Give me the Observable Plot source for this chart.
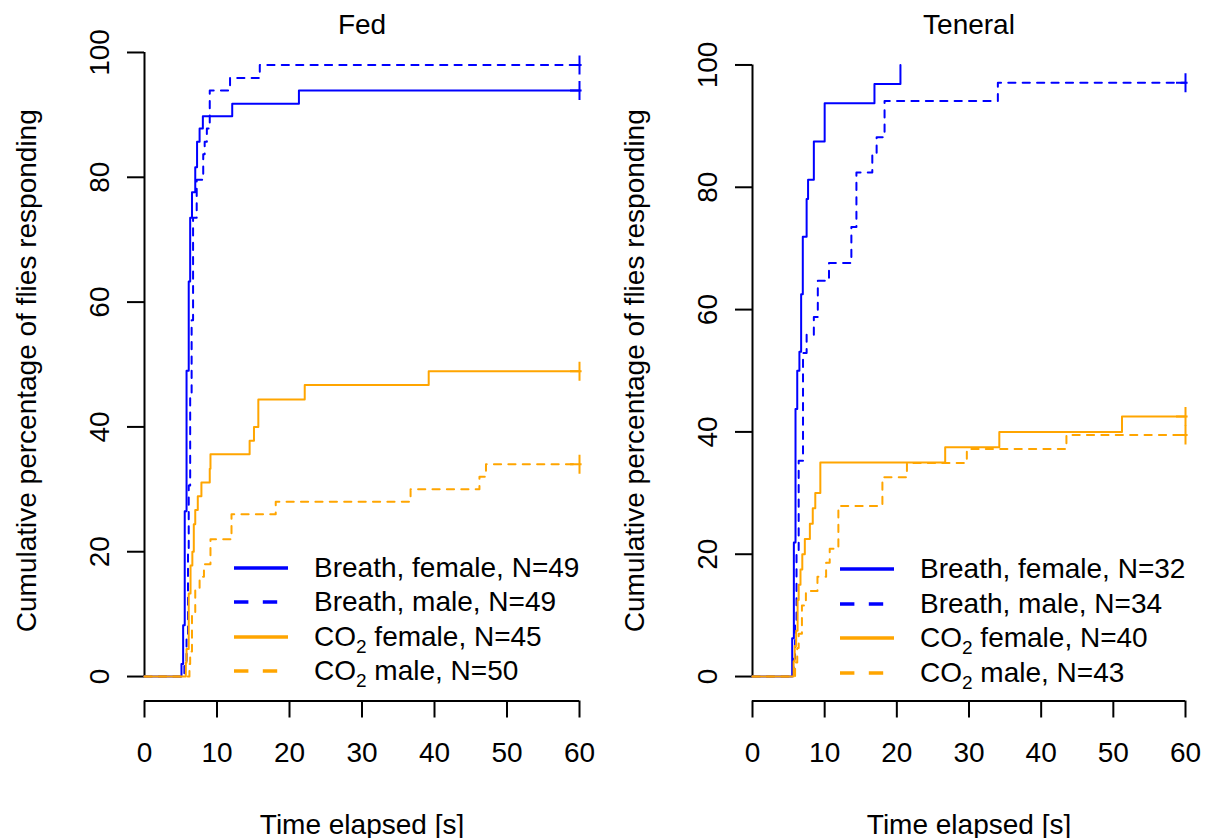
<!DOCTYPE html>
<html>
<head>
<meta charset="utf-8">
<script src="https://cdn.jsdelivr.net/npm/d3@7"></script>
<script src="https://cdn.jsdelivr.net/npm/@observablehq/plot@0.6"></script>
<style>
  body { margin: 0; background: #fff; }
  #chart { position: relative; width: 1210px; height: 838px; font-family: "Liberation Sans", Arial, sans-serif; color: #000; }
  .panel { position: absolute; top: 0; }
  .legend-row { position: absolute; display: flex; align-items: center; height: 34px; white-space: nowrap; font-size: 28px; line-height: 1; }
  .legend-row svg { display: block; }
  .legend-row span { margin-left: 26px; }
  .legend-row sub { font-size: 19px; vertical-align: -7px; line-height: 0; }
</style>
</head>
<body>
<div id="chart"></div>
<script>
// Time to response (s) and cumulative % of flies responding at each step.
const fedBreathFemale = [[5.1, 2.0], [5.33, 8.2], [5.55, 26.5], [5.8, 49.0], [6.1, 63.3], [6.3, 73.5], [6.55, 77.6], [7.0, 81.6], [7.25, 85.7], [7.6, 87.8], [8.05, 89.8], [12.1, 91.8], [21.3, 93.9]];
const fedBreathMale = [[5.5, 2.0], [5.8, 6.1], [6.0, 20.4], [6.1, 30.6], [6.3, 44.9], [6.5, 57.1], [6.7, 73.5], [7.2, 79.6], [8.1, 83.7], [8.3, 85.7], [8.6, 87.8], [9.0, 93.9], [11.8, 95.9], [15.9, 98.0]];
const fedCO2Female = [[5.7, 2.2], [5.8, 4.4], [6.1, 13.3], [6.35, 17.8], [6.6, 20.0], [6.8, 24.4], [7.0, 26.7], [7.35, 28.9], [7.85, 31.1], [9.0, 33.3], [9.1, 35.6], [14.5, 37.8], [15.1, 40.0], [15.7, 44.4], [22.1, 46.7], [39.2, 48.9]];
const fedCO2Male = [[6.2, 2.0], [6.3, 4.0], [6.55, 10.0], [7.0, 14.0], [7.6, 16.0], [8.2, 18.0], [9.1, 22.0], [12.0, 26.0], [18.1, 28.0], [36.7, 30.0], [46.2, 32.0], [47.1, 34.0]];

const tenBreathFemale = [[5.5, 6.25], [5.73, 21.9], [5.96, 43.75], [6.2, 50.0], [6.5, 53.1], [6.74, 62.5], [6.97, 71.9], [7.5, 78.1], [7.7, 81.25], [8.5, 87.5], [10.0, 93.75], [16.9, 96.9], [20.5, 100.0]];
const tenBreathMale = [[5.7, 2.9], [5.9, 8.8], [6.1, 20.6], [6.4, 35.3], [7.0, 52.9], [7.5, 55.9], [8.5, 58.8], [9.05, 64.7], [10.6, 67.6], [13.7, 73.5], [14.4, 82.4], [16.6, 85.3], [17.2, 88.2], [18.3, 94.1], [34.0, 97.1]];
const tenCO2Female = [[5.7, 2.5], [5.85, 5.0], [6.05, 7.5], [6.25, 12.5], [6.4, 15.0], [6.65, 17.5], [6.9, 20.0], [7.25, 22.5], [7.95, 25.0], [8.35, 27.5], [8.7, 30.0], [9.4, 35.0], [26.7, 37.5], [34.2, 40.0], [51.2, 42.5]];
const tenCO2Male = [[5.9, 2.3], [6.2, 4.65], [6.4, 7.0], [6.85, 11.6], [7.4, 14.0], [9.0, 16.3], [10.2, 18.6], [10.7, 20.9], [11.9, 27.9], [18.0, 32.6], [21.4, 34.9], [29.7, 37.2], [43.5, 39.5]];

// Series descriptions shared by both panels.
const seriesNames = ["Breath, female", "Breath, male", "CO2 female", "CO2 male"];
const seriesColors = ["#0000ff", "#0000ff", "#ffa500", "#ffa500"];
const seriesDashed = [false, true, false, true];
const fedN = [49, 49, 45, 50];
const tenN = [32, 34, 40, 43];
const fedCensored = [true, true, true, true];
const tenCensored = [false, true, true, true];

const panelTitles = ["Fed", "Teneral"];
const xTicks = [0, 10, 20, 30, 40, 50, 60];
const yTicks = [0, 20, 40, 60, 80, 100];
const endTime = 60;
const xTitle = "Time elapsed [s]";
const yTitle = "Cumulative percentage of flies responding";

const FONT = "\"Liberation Sans\", Arial, sans-serif";
const LW = 2;

// Custom "+" censoring mark (right arm clipped at the plot edge).
const censorSymbol = {
  draw(context, size) {
    const r = Math.sqrt(size / Math.PI);
    context.moveTo(0, -r); context.lineTo(0, r);
    context.moveTo(-r, 0); context.lineTo(r * 0.22, 0);
  }
};

function makePanel({title, steps, counts, censored, left, marginLeft, marginRight, legendLineX, legendTop}) {
  const maxP = d3.max(steps, s => d3.max(s, d => d[1]));
  const yDomain = [-0.04 * maxP, 1.04 * maxP];

  const marks = [
    // R-style detached axis lines spanning only the tick range
    Plot.ruleY([yDomain[0]], {x1: xTicks[0], x2: xTicks[xTicks.length - 1], stroke: "#000", strokeWidth: LW}),
    Plot.ruleX([xTicks[0]], {y1: yTicks[0], y2: yTicks[yTicks.length - 1], stroke: "#000", strokeWidth: LW}),
    Plot.axisX({ticks: xTicks, tickSize: 17, tickPadding: 24, tickFormat: d => String(d), label: null, strokeWidth: LW, fontSize: 28}),
    Plot.axisY({ticks: yTicks, tickSize: 17, tickFormat: () => "", label: null, strokeWidth: LW}),
    Plot.text(yTicks, {y: d => d, text: d => String(d), frameAnchor: "left", textAnchor: "middle", lineAnchor: "middle", rotate: -90, dx: -44, fontSize: 28}),
    Plot.text([title], {text: d => d, frameAnchor: "top", lineAnchor: "middle", dy: -15, fontSize: 28}),
    Plot.text([xTitle], {text: d => d, frameAnchor: "bottom", lineAnchor: "middle", dy: 124, fontSize: 28}),
    Plot.text([yTitle], {text: d => d, frameAnchor: "left", textAnchor: "middle", lineAnchor: "middle", rotate: -90, dx: -117, fontSize: 28})
  ];

  steps.forEach((s, i) => {
    const pts = [{t: 0, p: 0}, ...s.map(([t, p]) => ({t, p}))];
    const last = s[s.length - 1];
    if (censored[i]) pts.push({t: endTime, p: last[1]});
    marks.push(Plot.line(pts, {
      x: "t", y: "p", curve: "step-after",
      stroke: seriesColors[i], strokeWidth: LW,
      strokeDasharray: seriesDashed[i] ? "7.2,7.2" : null
    }));
    if (censored[i]) {
      marks.push(Plot.dot([{t: endTime, p: last[1]}], {
        x: "t", y: "p", r: 9.5, symbol: censorSymbol,
        stroke: seriesColors[i], fill: "none", strokeWidth: LW
      }));
    }
  });

  const svg = Plot.plot({
    width: 605, height: 838,
    marginTop: 40, marginBottom: 137.5, marginLeft, marginRight,
    x: {domain: [xTicks[0], xTicks[xTicks.length - 1]]},
    y: {domain: yDomain},
    style: {fontFamily: FONT, fontSize: "28px", color: "#000", background: "transparent", overflow: "visible"},
    marks
  });
  const wrap = document.createElement("div");
  wrap.className = "panel";
  wrap.style.left = left + "px";
  wrap.appendChild(svg);
  document.getElementById("chart").appendChild(wrap);

  // Legend
  seriesNames.forEach((name, i) => {
    const row = document.createElement("div");
    row.className = "legend-row";
    row.style.left = legendLineX + "px";
    row.style.top = (legendTop + i * 34.5 - 17) + "px";
    const line = d3.create("svg").attr("width", 54).attr("height", 34);
    line.append("line").attr("x1", 0).attr("x2", 54).attr("y1", 17).attr("y2", 17)
      .attr("stroke", seriesColors[i]).attr("stroke-width", 3.6)
      .attr("stroke-dasharray", seriesDashed[i] ? "14.4,14.4" : null);
    row.appendChild(line.node());
    const label = document.createElement("span");
    const m = name.match(/^CO2(.*)$/);
    if (m) {
      label.append("CO");
      const sub = document.createElement("sub");
      sub.textContent = "2";
      label.append(sub);
      label.append(m[1] + ", N=" + counts[i]);
    } else {
      label.append(name + ", N=" + counts[i]);
    }
    row.appendChild(label);
    document.getElementById("chart").appendChild(row);
  });
}

makePanel({
  title: panelTitles[0],
  steps: [fedBreathFemale, fedBreathMale, fedCO2Female, fedCO2Male],
  counts: fedN, censored: fedCensored,
  left: 0, marginLeft: 144, marginRight: 26,
  legendLineX: 234, legendTop: 567.5
});
makePanel({
  title: panelTitles[1],
  steps: [tenBreathFemale, tenBreathMale, tenCO2Female, tenCO2Male],
  counts: tenN, censored: tenCensored,
  left: 605, marginLeft: 147, marginRight: 25,
  legendLineX: 840, legendTop: 569
});
</script>
</body>
</html>
